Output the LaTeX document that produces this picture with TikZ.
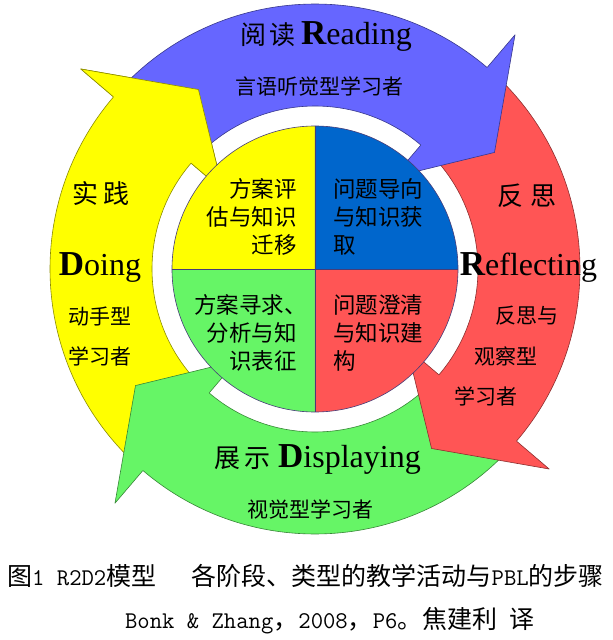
\documentclass[tikz,border=0pt]{standalone}
\usepackage{fontspec}
\setmainfont{Liberation Serif}
\newfontfamily\cjk{Noto Sans CJK SC}
\usepackage{xcolor}
\usetikzlibrary{positioning}

\definecolor{readblue}{RGB}{102,102,255}
\definecolor{reflred}{RGB}{255,85,85}
\definecolor{dispgreen}{RGB}{102,245,102}
\definecolor{doyellow}{RGB}{255,255,0}
\definecolor{quadblue}{RGB}{0,102,204}
\definecolor{hubline}{RGB}{70,60,120}

\newcommand{\capletter}[1]{{\fontsize{35}{35}\selectfont\bfseries #1}}
\newcommand{\caplatin}[1]{{\ttfamily\fontsize{24}{28}\selectfont #1}}

\begin{document}
\begin{tikzpicture}[
    x=1pt, y=1pt,
    band/.style={draw=#1!55!black, fill=#1, line width=0.6pt, line join=round},
    title/.style={anchor=base, inner sep=0pt, font=\fontsize{32}{36}\selectfont},
    stage/.style={inner sep=0pt, font=\cjk\fontsize{26}{30}\selectfont},
    learner/.style={inner sep=0pt, font=\cjk\fontsize{21}{25}\selectfont},
    quad/.style={inner sep=0pt, font=\cjk\fontsize{22.5}{28}\selectfont},
    caption/.style={inner sep=0pt, font=\cjk\fontsize{25}{28}\selectfont}
]
    \fill[white] (-315,-371) rectangle (298,269);
    \useasboundingbox (-315,-371) rectangle (298,269);

    % Ring arrows (each head covers the tail of the one before)
    \filldraw[band=doyellow, rotate=90] (136.5:265) arc[start angle=136.5, end angle=49.5, radius=265]
        -- (49.5:308) -- (33:214) -- (49.5:121) -- (49.5:163)
        arc[start angle=49.5, end angle=136.5, radius=163] -- cycle;
    \filldraw[band=dispgreen, rotate=180] (136.5:265) arc[start angle=136.5, end angle=49.5, radius=265]
        -- (49.5:308) -- (33:214) -- (49.5:121) -- (49.5:163)
        arc[start angle=49.5, end angle=136.5, radius=163] -- cycle;
    \filldraw[band=reflred, rotate=-90] (136.5:265) arc[start angle=136.5, end angle=49.5, radius=265]
        -- (49.5:308) -- (33:214) -- (49.5:121) -- (49.5:163)
        arc[start angle=49.5, end angle=136.5, radius=163] -- cycle;
    \filldraw[band=readblue] (136.5:265) arc[start angle=136.5, end angle=49.5, radius=265]
        -- (49.5:308) -- (33:214) -- (49.5:121) -- (49.5:163)
        arc[start angle=49.5, end angle=136.5, radius=163] -- cycle;
    % Doing head again, over the Reading tail
    \fill[doyellow, rotate=90] (49.5:265) -- (49.5:308) -- (33:214) -- (49.5:121) -- cycle;
    \draw[draw=doyellow!55!black, line width=0.6pt, line join=round, rotate=90]
        (49.5:265) -- (49.5:308) -- (33:214) -- (49.5:121) -- (49.5:163);

    % Centre disc
    \fill[doyellow] (0,0) -- (90:143) arc[start angle=90, end angle=180, radius=143] -- cycle;
    \fill[quadblue] (0,0) -- (0:143) arc[start angle=0, end angle=90, radius=143] -- cycle;
    \fill[dispgreen] (0,0) -- (180:143) arc[start angle=180, end angle=270, radius=143] -- cycle;
    \fill[reflred] (0,0) -- (270:143) arc[start angle=270, end angle=360, radius=143] -- cycle;
    \node[circle, draw=hubline, line width=0.6pt, minimum size=286pt, inner sep=0pt] (hub) at (0,0) {};
    \draw[hubline, line width=0.6pt] (hub.west) -- (hub.east);
    \draw[hubline, line width=0.6pt] (hub.north) -- (hub.south);

    % Quarter texts
    \node[quad, align=right, anchor=east] (evaluate) at (-18,52) {方案评\\估与知识\\迁移};
    \node[quad, align=left, anchor=west] (orient) at (18,52) {问题导向\\与知识获\\取};
    \node[quad, align=right, anchor=east] (seek) at (-18,-64) {方案寻求、\kern-10pt\\分析与知\\识表征};
    \node[quad, align=left, anchor=west] (clarify) at (18,-64) {问题澄清\\与知识建\\构};

    % Reading
    \node[title] (reading) at (11,224) {{\cjk\fontsize{26}{30}\selectfont 阅\kern3pt读}\kern6pt\capletter{R}eading};
    \node[learner] (readlearn) at (5,182.5) {言语听觉型学习者};

    % Reflecting
    \node[stage] (reflcn) at (212,73) {反\kern8pt思};
    \node[title] (reflecting) at (213.5,-6) {\capletter{R}eflecting};
    \node[learner] (refllearn1) at (212,-47) {反思与};
    \node[learner] (refllearn2) at (191,-87) {观察型};
    \node[learner] (refllearn3) at (171,-127) {学习者};

    % Displaying
    \node[title] (displaying) at (2.5,-198) {{\cjk\fontsize{26}{30}\selectfont 展\kern4pt示}\kern8pt\capletter{D}isplaying};
    \node[learner] (displearn) at (-4.5,-240) {视觉型学习者};

    % Doing
    \node[stage] (doingcn) at (-214,75.5) {实\kern5pt践};
    \node[title] (doing) at (-215,-6) {\capletter{D}oing};
    \node[learner] (doinglearn1) at (-215,-48) {动手型};
    \node[learner] (doinglearn2) at (-215,-87) {学习者};

    % Caption
    \node[caption, anchor=west] (figno) at (-308,-307) {图\caplatin{1 R2D2}模型};
    \node[caption, anchor=east] (figtitle) at (289,-307) {各阶段、类型的教学活动与\caplatin{PBL}的步骤};
    \node[caption] (source) at (15,-352) {\caplatin{Bonk \& Zhang}，\caplatin{2008}，\caplatin{P6}。焦建利\caplatin{\ }译};
\end{tikzpicture}
\end{document}
